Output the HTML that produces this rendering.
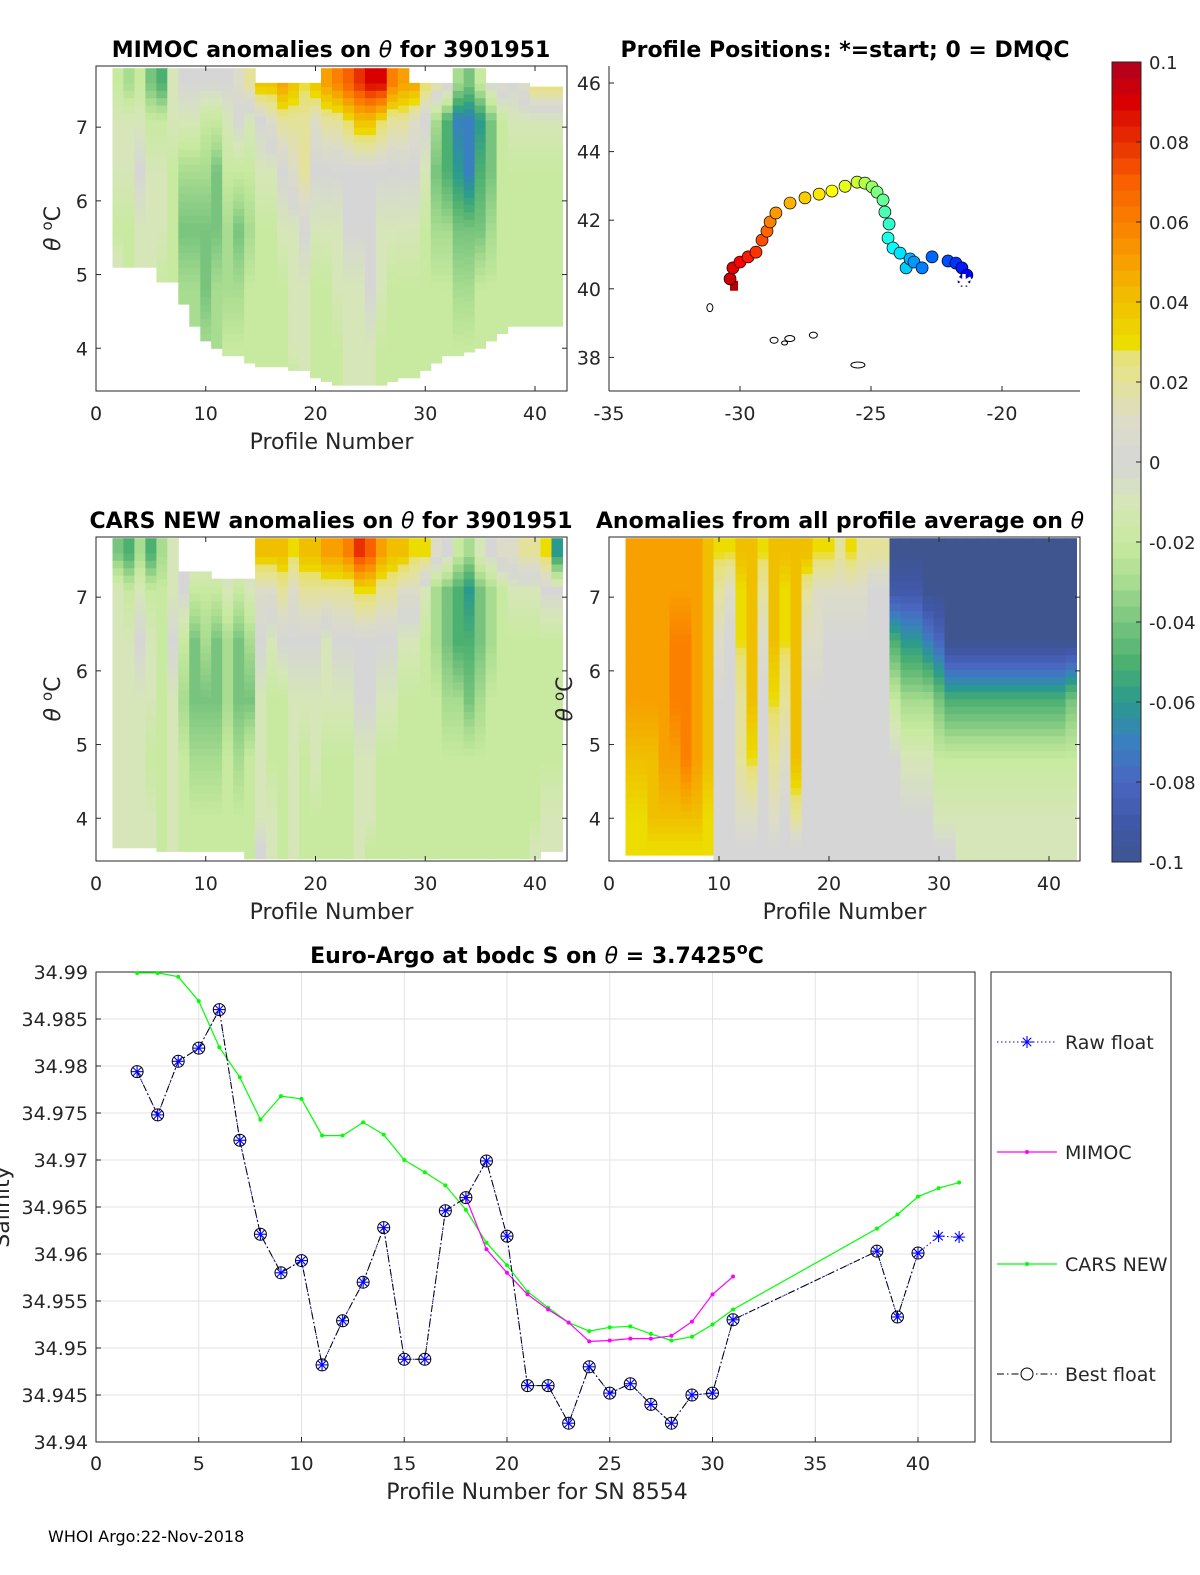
<!DOCTYPE html>
<html><head><meta charset="utf-8"><style>
html,body{margin:0;padding:0;background:#fff;}
svg{display:block;font-family:"DejaVu Sans","Liberation Sans",sans-serif;}
</style></head><body>
<svg id="fig" width="1200" height="1575" viewBox="0 0 1200 1575" xmlns="http://www.w3.org/2000/svg">
<rect width="1200" height="1575" fill="#fff"/>
<g id="layer"></g>
</svg>
<script>
// ---------- data ----------
const profiles = [2,3,4,5,6,7,8,9,10,11,12,13,14,15,16,17,18,19,20,21,22,23,24,25,26,27,28,29,30,31,32,33,34,35,36,37,38,39,40,41,42];
const thetaLevels = [7.6,7.1,6.4,5.6,4.8,4.0,3.6];
const mimocVals = [
[-0.02,-0.01,-0.01,-0.02,0,0,0],[-0.03,-0.01,-0.01,-0.02,-0.02,-0.02,-0.02],[-0.02,-0.01,0,-0.01,-0.01,-0.01,-0.01],[-0.04,-0.02,-0.01,-0.01,-0.01,-0.01,-0.01],
[-0.05,-0.02,-0.01,-0.01,-0.02,-0.02,-0.02],[-0.01,-0.01,-0.02,-0.02,-0.02,-0.02,-0.02],[0,-0.01,-0.03,-0.04,-0.03,-0.03,-0.03],[0,-0.01,-0.03,-0.04,-0.03,-0.03,-0.03],
[0,-0.02,-0.03,-0.04,-0.04,-0.03,-0.03],[0,-0.02,-0.04,-0.04,-0.03,-0.03,-0.03],[0,-0.01,-0.02,-0.03,-0.03,-0.02,-0.02],[0.01,0,-0.02,-0.04,-0.03,-0.02,-0.02],
[0.02,-0.01,-0.02,-0.03,-0.02,-0.02,-0.02],[0.04,0,-0.01,-0.02,-0.02,-0.02,-0.02],[0.04,0.01,-0.01,-0.02,-0.02,-0.02,-0.02],[0.05,0.02,0,-0.01,-0.02,-0.02,-0.02],
[0.04,0.02,0.01,-0.01,-0.01,-0.01,-0.02],[0.03,0.02,0.02,0,-0.01,-0.01,-0.01],[0.04,0.01,0,-0.01,-0.02,-0.02,-0.02],[0.05,0.02,0,-0.01,-0.02,-0.02,-0.02],
[0.06,0.02,0,-0.01,-0.01,-0.02,-0.02],[0.07,0.03,0,0,-0.01,-0.01,-0.01],[0.08,0.04,0,0,-0.01,-0.01,-0.01],[0.09,0.04,0,0,0,-0.01,-0.01],
[0.09,0.03,0,-0.01,-0.01,-0.02,-0.02],[0.06,0.02,0,-0.01,-0.02,-0.02,-0.02],[0.05,0.02,0,-0.01,-0.02,-0.02,-0.02],[0.05,0.01,0,-0.01,-0.02,-0.02,-0.02],
[0.03,0,-0.01,-0.02,-0.02,-0.02,-0.02],[0.02,-0.03,-0.04,-0.03,-0.02,-0.02,-0.02],[0.01,-0.05,-0.05,-0.03,-0.02,-0.02,-0.02],[-0.03,-0.07,-0.06,-0.04,-0.03,-0.02,-0.02],
[-0.04,-0.07,-0.07,-0.04,-0.03,-0.02,-0.02],[-0.02,-0.06,-0.05,-0.04,-0.02,-0.02,-0.02],[0,-0.04,-0.04,-0.03,-0.02,-0.02,-0.02],[0.01,-0.02,-0.02,-0.02,-0.02,-0.02,-0.02],
[0,-0.01,-0.02,-0.02,-0.02,-0.02,-0.02],[0.01,-0.01,-0.02,-0.02,-0.02,-0.02,-0.02],[0.03,-0.01,-0.02,-0.02,-0.02,-0.02,-0.02],[0.03,-0.01,-0.02,-0.02,-0.02,-0.02,-0.02],
[0.03,-0.01,-0.02,-0.02,-0.02,-0.02,-0.02]];
const mimocBottom = [5.1,5.1,5.1,5.1,4.9,4.9,4.6,4.3,4.1,4.0,3.9,3.9,3.8,3.75,3.75,3.75,3.7,3.7,3.6,3.55,3.5,3.5,3.5,3.5,3.5,3.55,3.6,3.6,3.7,3.8,3.9,3.9,3.95,4.0,4.1,4.2,4.3,4.3,4.3,4.3,4.3];
const mimocTop = [7.8,7.8,7.8,7.8,7.8,7.8,7.8,7.8,7.8,7.8,7.8,7.8,7.8,7.6,7.6,7.6,7.6,7.6,7.6,7.8,7.8,7.8,7.8,7.8,7.8,7.8,7.8,7.6,7.6,7.6,7.6,7.8,7.8,7.8,7.6,7.6,7.6,7.6,7.55,7.55,7.55];
const carsVals = [
[-0.04,-0.01,-0.01,-0.01,-0.01,-0.01,-0.01],[-0.05,-0.02,-0.01,-0.01,-0.01,-0.01,-0.01],[-0.03,-0.01,0,-0.01,-0.01,-0.01,-0.01],[-0.05,-0.02,-0.01,-0.01,-0.02,-0.01,-0.01],
[-0.03,-0.02,-0.02,-0.02,-0.02,-0.02,-0.02],[-0.01,-0.01,0,-0.01,-0.01,-0.01,-0.01],[0,0,-0.02,-0.03,-0.02,-0.02,-0.02],[0,-0.02,-0.04,-0.04,-0.03,-0.02,-0.02],
[0,-0.02,-0.03,-0.04,-0.03,-0.02,-0.02],[0,-0.02,-0.04,-0.04,-0.03,-0.02,-0.02],[0,-0.01,-0.03,-0.03,-0.02,-0.02,-0.02],[0,-0.02,-0.04,-0.04,-0.03,-0.02,-0.02],
[0,-0.01,-0.03,-0.04,-0.02,-0.02,-0.02],[0.04,0.01,0,-0.01,-0.01,-0.01,0],[0.04,0.01,-0.01,-0.02,-0.02,-0.01,-0.01],[0.04,0.02,0,-0.02,-0.02,-0.02,-0.02],
[0.03,0.01,0,-0.01,-0.01,-0.01,-0.01],[0.04,0.02,0,-0.01,-0.02,-0.02,-0.02],[0.04,0.02,0,-0.01,-0.01,-0.02,-0.02],[0.05,0.02,-0.01,-0.01,-0.02,-0.02,-0.02],
[0.05,0.02,0,-0.01,-0.02,-0.02,-0.02],[0.06,0.02,0,-0.01,-0.02,-0.02,-0.02],[0.08,0.03,0,0,-0.01,-0.01,-0.01],[0.07,0.03,0,0,-0.01,-0.01,-0.02],
[0.05,0.02,0,-0.01,-0.02,-0.02,-0.02],[0.04,0.02,0,-0.01,-0.02,-0.02,-0.02],[0.04,0.01,-0.01,-0.02,-0.02,-0.02,-0.02],[0.03,0.01,-0.01,-0.02,-0.02,-0.02,-0.02],
[0.03,-0.01,-0.02,-0.02,-0.02,-0.02,-0.02],[0.01,-0.03,-0.03,-0.02,-0.02,-0.02,-0.02],[0,-0.04,-0.04,-0.03,-0.02,-0.02,-0.02],[-0.02,-0.05,-0.05,-0.03,-0.02,-0.02,-0.02],
[-0.03,-0.06,-0.05,-0.04,-0.02,-0.02,-0.02],[-0.01,-0.04,-0.04,-0.03,-0.02,-0.02,-0.02],[0,-0.03,-0.03,-0.02,-0.02,-0.02,-0.02],[0.01,-0.02,-0.02,-0.02,-0.02,-0.02,-0.02],
[0.01,-0.01,-0.02,-0.02,-0.02,-0.02,-0.02],[0.02,-0.01,-0.02,-0.02,-0.02,-0.02,-0.02],[0.02,-0.01,-0.02,-0.02,-0.02,-0.02,-0.01],[0.03,0,-0.02,-0.02,-0.02,-0.01,-0.01],
[-0.06,0,-0.02,-0.02,-0.02,-0.01,-0.01]];
const carsBottom = [3.6,3.6,3.6,3.6,3.55,3.55,3.55,3.55,3.55,3.55,3.55,3.55,3.45,3.45,3.45,3.45,3.45,3.45,3.45,3.45,3.45,3.45,3.45,3.45,3.45,3.45,3.45,3.45,3.45,3.45,3.45,3.45,3.45,3.45,3.45,3.45,3.45,3.45,3.45,3.55,3.55];
const carsTop = [7.8,7.8,7.8,7.8,7.8,7.8,7.35,7.35,7.35,7.25,7.25,7.25,7.25,7.8,7.8,7.8,7.8,7.8,7.8,7.8,7.8,7.8,7.8,7.8,7.8,7.8,7.8,7.8,7.8,7.8,7.8,7.8,7.8,7.8,7.8,7.8,7.8,7.8,7.8,7.8,7.8];
const avgVals = [
[0.05,0.05,0.05,0.05,0.04,0.03,0.03],[0.05,0.05,0.05,0.05,0.04,0.03,0.03],[0.05,0.05,0.05,0.05,0.04,0.04,0.03],[0.05,0.05,0.05,0.05,0.05,0.04,0.03],
[0.05,0.05,0.06,0.06,0.05,0.04,0.03],[0.05,0.05,0.06,0.06,0.06,0.04,0.03],[0.05,0.05,0.05,0.05,0.05,0.04,0.03],[0.04,0.04,0.04,0.04,0.04,0.03,0.03],
[0.03,0.02,0.01,0,0,0,0],[0.03,0.01,0,0,0,0,0],[0.04,0.03,0.03,0.02,0.02,0.01,0],[0.04,0.04,0.04,0.04,0.03,0.01,0],
[0.03,0.02,0.01,0,0,0,0],[0.04,0.04,0.04,0.03,0.02,0.01,0],[0.04,0.03,0.03,0.02,0.01,0,0],[0.04,0.04,0.04,0.04,0.04,0.02,0],
[0.04,0.02,0.01,0,0,0,0],[0.03,0.01,0.01,0,0,0,0],[0.03,0.01,0,0,0,0,0],[0.02,0.01,0,0,0,0,0],
[0.03,0.01,0,0,0,0,0],[0.02,0.01,0,0,0,0,0],[0.02,0,0,0,0,0,0],[0.02,0,0,0,0,0,0],
[-0.1,-0.09,-0.05,-0.02,0,0,0],[-0.1,-0.09,-0.06,-0.03,-0.01,0,0],[-0.1,-0.09,-0.06,-0.03,-0.01,0,0],[-0.1,-0.1,-0.07,-0.03,-0.01,0,0],
[-0.1,-0.1,-0.08,-0.04,-0.02,-0.01,0],[-0.1,-0.1,-0.1,-0.05,-0.02,-0.01,0],[-0.1,-0.1,-0.1,-0.05,-0.02,-0.01,-0.01],[-0.1,-0.1,-0.1,-0.05,-0.02,-0.01,-0.01],
[-0.1,-0.1,-0.1,-0.05,-0.02,-0.01,-0.01],[-0.1,-0.1,-0.1,-0.05,-0.02,-0.01,-0.01],[-0.1,-0.1,-0.1,-0.05,-0.02,-0.01,-0.01],[-0.1,-0.1,-0.1,-0.05,-0.02,-0.01,-0.01],
[-0.1,-0.1,-0.1,-0.05,-0.02,-0.01,-0.01],[-0.1,-0.1,-0.1,-0.05,-0.02,-0.01,-0.01],[-0.1,-0.1,-0.1,-0.05,-0.02,-0.01,-0.01],[-0.1,-0.1,-0.1,-0.05,-0.02,-0.01,-0.01],
[-0.1,-0.1,-0.1,-0.04,-0.02,-0.01,-0.01]];
const avgBottom = [3.5,3.5,3.5,3.5,3.5,3.5,3.5,3.5,3.42,3.42,3.42,3.42,3.42,3.42,3.42,3.42,3.42,3.42,3.42,3.42,3.42,3.42,3.42,3.42,3.42,3.42,3.42,3.42,3.42,3.42,3.42,3.42,3.42,3.42,3.42,3.42,3.42,3.42,3.42,3.42,3.42];
const avgTop = [7.8,7.8,7.8,7.8,7.8,7.8,7.8,7.8,7.8,7.8,7.8,7.8,7.8,7.8,7.8,7.8,7.8,7.8,7.8,7.8,7.8,7.8,7.8,7.8,7.8,7.8,7.8,7.8,7.8,7.8,7.8,7.8,7.8,7.8,7.8,7.8,7.8,7.8,7.8,7.8,7.8];
const trackLon = [-21.45,-21.34,-21.53,-21.76,-22.06,-22.67,-23.05,-23.36,-23.51,-23.66,-23.89,-24.16,-24.35,-24.31,-24.47,-24.54,-24.77,-24.96,-25.23,-25.53,-25.99,-26.49,-26.98,-27.52,-28.09,-28.63,-28.85,-28.97,-29.16,-29.39,-29.69,-30.0,-30.27,-30.38,-30.19];
const trackLat = [40.23,40.40,40.61,40.75,40.81,40.93,40.61,40.78,40.87,40.61,41.04,41.19,41.48,41.89,42.24,42.59,42.82,42.97,43.08,43.11,42.99,42.85,42.76,42.65,42.50,42.21,41.95,41.68,41.42,41.07,40.93,40.78,40.61,40.29,40.06];
const bestProf = [2,3,4,5,6,7,8,9,10,11,12,13,14,15,16,17,18,19,20,21,22,23,24,25,26,27,28,29,30,31,38,39,40];
const bestSal = [34.9794,34.9748,34.9805,34.9819,34.986,34.9721,34.9621,34.958,34.9593,34.9482,34.9529,34.957,34.9628,34.9488,34.9488,34.9646,34.966,34.9699,34.9619,34.946,34.946,34.942,34.948,34.9452,34.9462,34.944,34.942,34.945,34.9452,34.953,34.9603,34.9533,34.9601];
const rawProf = [2,3,4,5,6,7,8,9,10,11,12,13,14,15,16,17,18,19,20,21,22,23,24,25,26,27,28,29,30,31,38,39,40,41,42];
const rawSal = [34.9794,34.9748,34.9805,34.9819,34.986,34.9721,34.9621,34.958,34.9593,34.9482,34.9529,34.957,34.9628,34.9488,34.9488,34.9646,34.966,34.9699,34.9619,34.946,34.946,34.942,34.948,34.9452,34.9462,34.944,34.942,34.945,34.9452,34.953,34.9603,34.9533,34.9601,34.9619,34.9618];
const mimocProf = [18,19,20,21,22,23,24,25,26,27,28,29,30,31];
const mimocSal = [34.966,34.9605,34.958,34.9557,34.9541,34.9527,34.9507,34.9508,34.951,34.951,34.9513,34.9528,34.9557,34.9576];
const carsProf = [2,3,4,5,6,7,8,9,10,11,12,13,14,15,16,17,18,19,20,21,22,23,24,25,26,27,28,29,30,31,38,39,40,41,42];
const carsSal = [34.9899,34.9899,34.9895,34.9869,34.982,34.9788,34.9743,34.9768,34.9765,34.9726,34.9726,34.974,34.9727,34.97,34.9687,34.9673,34.9647,34.9612,34.9588,34.956,34.9543,34.9527,34.9518,34.9522,34.9523,34.9515,34.9508,34.9512,34.9525,34.9541,34.9627,34.9642,34.9661,34.967,34.9676];
const cbTicks = ["0.1","0.08","0.06","0.04","0.02","0","-0.02","-0.04","-0.06","-0.08","-0.1"];

// ---------- helpers ----------
const NS="http://www.w3.org/2000/svg";
const root=document.getElementById('layer');
function mk(tag,attrs,parent){const e=document.createElementNS(NS,tag);for(const k in attrs)e.setAttribute(k,attrs[k]);(parent||root).appendChild(e);return e;}
function txt(x,y,s,size,anchor,parent,extra){const t=mk('text',Object.assign({x:x,y:y,'font-size':size,'text-anchor':anchor||'middle',fill:'#262626'},extra||{}),parent);t.textContent=s;return t;}
const cmapV=[-0.1,-0.09,-0.08,-0.07,-0.06,-0.05,-0.04,-0.03,-0.02,-0.01,0,0.01,0.02,0.028,0.03,0.04,0.05,0.06,0.07,0.08,0.09,0.1];
const cmapC=['#3e5590','#4058a8','#4a66c0','#3a80c0','#2a9a8e','#4cb070','#78c47e','#a8dc90','#c8eaa0','#d6e6b8','#d6d6d6','#dcdcc8','#e4e29a','#e8e070','#ecdc00','#f0c000','#f8a000','#fb8000','#f86000','#e83000','#d80000','#b00020'];
function hex(c){return [parseInt(c.substr(1,2),16),parseInt(c.substr(3,2),16),parseInt(c.substr(5,2),16)];}
function cmap(v){v=Math.max(-0.1,Math.min(0.1,v));for(let i=0;i<cmapV.length-1;i++){if(v<=cmapV[i+1]){const f=(v-cmapV[i])/(cmapV[i+1]-cmapV[i]);const a=hex(cmapC[i]),b=hex(cmapC[i+1]);return 'rgb('+a.map((q,j)=>Math.round(q+(b[j]-q)*f)).join(',')+')';}}return cmapC[cmapC.length-1];}
function interpLevel(vals,th){if(th>=thetaLevels[0])return vals[0];for(let i=0;i<thetaLevels.length-1;i++){if(th>=thetaLevels[i+1]){const f=(thetaLevels[i]-th)/(thetaLevels[i]-thetaLevels[i+1]);return vals[i]+(vals[i+1]-vals[i])*f;}}return vals[vals.length-1];}

function heatPanel(name,x0,x1,y0,y1,pxPerProf,vals,bottom,top,yLabelX){
  const g=mk('g',{},root);
  
  
  const xs=p=>x0+p*pxPerProf;
  const ys=t=>y1-(t-3.42)*73.7;
  profiles.forEach((p,i)=>{
    const cx0=xs(p-0.5),cx1=xs(p+0.5);
    for(let t=bottom[i];t<top[i]-0.001;t+=0.1){
      const tt=Math.min(t+0.1,top[i]);
      const r=mk('rect',{x:cx0.toFixed(1),y:ys(tt).toFixed(1),width:(cx1-cx0+0.5).toFixed(1),height:(ys(t)-ys(tt)+0.5).toFixed(1),fill:cmap(interpLevel(vals[i],(t+tt)/2))},g);
      
      
    }
  });
  const box=mk('rect',{x:x0,y:y0,width:x1-x0,height:y1-y0,fill:'none',stroke:'#262626','stroke-width':1},g);
  
  
  [0,10,20,30,40].forEach(v=>{const X=xs(v);mk('line',{x1:X,y1:y1,x2:X,y2:y1-5,stroke:'#262626'},g);mk('line',{x1:X,y1:y0,x2:X,y2:y0+5,stroke:'#262626'},g);
    const t=txt(X,y1+29,String(v),19,'middle',g);});
  [4,5,6,7].forEach(v=>{const Y=ys(v);mk('line',{x1:x0,y1:Y,x2:x0+5,y2:Y,stroke:'#262626'},g);mk('line',{x1:x1,y1:Y,x2:x1-5,y2:Y,stroke:'#262626'},g);
    const t=txt(x0-8,Y+7,String(v),19,'end',g);});
  const xl=txt((x0+x1)/2,y1+58,'Profile Number',22,'middle',g);
  const yl=mk('text',{x:0,y:0,'font-size':22,'text-anchor':'middle',fill:'#262626',transform:'translate('+yLabelX+','+((y0+y1)/2)+') rotate(-90)'},g);
  yl.innerHTML='<tspan font-style="italic">θ</tspan> <tspan dy="-8" font-size="15">o</tspan><tspan dy="8">C</tspan>';
  
  return g;
}

// ---------- titles ----------
function title(x,y,html,name){const t=mk('text',{x:x,y:y,'font-size':22,'font-weight':'bold','text-anchor':'middle',fill:'#000'});t.innerHTML=html;}
title(331,57,'MIMOC anomalies on <tspan font-style="italic" font-weight="normal">θ</tspan>  for 3901951','mimoc-title');
title(845,57,'Profile Positions: *=start; 0 = DMQC','map-title');
title(331,528,'CARS NEW anomalies on <tspan font-style="italic" font-weight="normal">θ</tspan> for 3901951','cars-title');
title(840,528,'Anomalies from all profile average on <tspan font-style="italic" font-weight="normal">θ</tspan>','avg-title');
title(537,963,'Euro-Argo at bodc S on <tspan font-style="italic" font-weight="normal">θ</tspan> = 3.7425<tspan dy="-9" font-size="16">o</tspan><tspan dy="9">C</tspan>','salinity-title');

heatPanel('mimoc-anomaly-panel',96,567,66,391,10.975,mimocVals,mimocBottom,mimocTop,60);
heatPanel('cars-anomaly-panel',96,567,537,861,10.975,carsVals,carsBottom,carsTop,60);
heatPanel('avg-anomaly-panel',609,1080,537,861,11,avgVals,avgBottom,avgTop,572);

// ---------- map ----------
(function(){
  const g=mk('g',{});
  const X=lon=>609+(lon+35)*26.2, Y=lat=>83+(46-lat)*34.3;
  mk('line',{x1:609,y1:66,x2:609,y2:391,stroke:'#262626'},g);
  mk('line',{x1:609,y1:391,x2:1080,y2:391,stroke:'#262626'},g);
  [-35,-30,-25,-20].forEach(v=>{mk('line',{x1:X(v),y1:391,x2:X(v),y2:386,stroke:'#262626'},g);const t=txt(X(v),420,String(v),19,'middle',g);});
  [38,40,42,44,46].forEach(v=>{mk('line',{x1:609,y1:Y(v),x2:614,y2:Y(v),stroke:'#262626'},g);const t=txt(601,Y(v)+7,String(v),19,'end',g);});
  [[-31.15,39.45,3,4],[-28.7,38.5,4,3],[-28.1,38.55,5,3],[-27.2,38.65,4,3],[-25.5,37.78,7,3],[-28.3,38.42,3,2]].forEach(d=>{const e=mk('ellipse',{cx:X(d[0]),cy:Y(d[1]),rx:d[2],ry:d[3],fill:'none',stroke:'#000','stroke-width':1},g);});
  const n=trackLon.length;
  const jet=f=>{const r=Math.min(1,Math.max(0,1.5-Math.abs(4*f-3))),gg=Math.min(1,Math.max(0,1.5-Math.abs(4*f-2))),b=Math.min(1,Math.max(0,1.5-Math.abs(4*f-1)));return 'rgb('+Math.round(r*255)+','+Math.round(gg*255)+','+Math.round(b*255)+')';};
  for(let i=n-1;i>=0;i--){
    const f=0.1+0.85*i/(n-1);
    let el;
    if(i===n-1){el=mk('rect',{x:X(trackLon[i])-5,y:Y(trackLat[i])-6,width:8,height:10,fill:jet(f)},g);}
    else el=mk('circle',{cx:X(trackLon[i]),cy:Y(trackLat[i]),r:6,fill:jet(f),stroke:'#000','stroke-width':0.7},g);
    
  }
  const s=txt(X(trackLon[0]),Y(trackLat[0])+9,'✱',22,'middle',g,{fill:'#fff'});
  
})();

// ---------- colorbar ----------
(function(){
  const g=mk('g',{});
  const yv=v=>862-(v+0.1)/0.2*800;
  for(let k=0;k<50;k++){const v0=-0.1+k*0.004;const r=mk('rect',{x:1112,y:yv(v0+0.004),width:29,height:800/50+0.5,fill:cmap(v0+0.002)},g);}
  mk('rect',{x:1112,y:62,width:29,height:800,fill:'none',stroke:'#262626'},g);
  cbTicks.forEach(s=>{const v=parseFloat(s);const Y=yv(v);mk('line',{x1:1136,y1:Y,x2:1141,y2:Y,stroke:'#262626'},g);const t=txt(1149,Y+7,s,18,'start',g);});
})();

// ---------- salinity chart ----------
(function(){
  const g=mk('g',{});
  const X=p=>96+p*20.55, Y=s=>972+(34.99-s)*9400;
  for(let v=0;v<=40;v+=5){mk('line',{x1:X(v),y1:972,x2:X(v),y2:1442,stroke:'#e3e3e3'},g);const t=txt(X(v),1470,String(v),19,'middle',g);mk('line',{x1:X(v),y1:1442,x2:X(v),y2:1437,stroke:'#262626'},g);}
  for(let k=0;k<=10;k++){const s=34.94+k*0.005;const Yp=Y(s);mk('line',{x1:96,y1:Yp,x2:975,y2:Yp,stroke:'#e3e3e3'},g);mk('line',{x1:96,y1:Yp,x2:101,y2:Yp,stroke:'#262626'},g);
    let lab=s.toFixed(3).replace(/0+$/,'');const t=txt(88,Yp+7,lab,19,'end',g);}
  mk('rect',{x:96,y:972,width:879,height:470,fill:'none',stroke:'#262626'},g);
  const xl=txt(537,1499,'Profile Number for SN 8554',22,'middle',g);
  const yl=txt(0,0,'Salinity',22,'middle',g,{transform:'translate(9,1207) rotate(-90)'});
  function pts(P,S){return P.map((p,i)=>X(p).toFixed(1)+','+Y(S[i]).toFixed(1)).join(' ');}
  const lc=mk('polyline',{points:pts(carsProf,carsSal),fill:'none',stroke:'#00ff00','stroke-width':1.2},g);
  carsProf.forEach((p,i)=>{const c=mk('circle',{cx:X(p),cy:Y(carsSal[i]),r:2,fill:'#00ff00'},g);});
  const lm=mk('polyline',{points:pts(mimocProf,mimocSal),fill:'none',stroke:'#ff00ff','stroke-width':1.2},g);
  mimocProf.forEach((p,i)=>{const c=mk('circle',{cx:X(p),cy:Y(mimocSal[i]),r:2,fill:'#ff00ff'},g);});
  const lr=mk('polyline',{points:pts(rawProf,rawSal),fill:'none',stroke:'#0000ff','stroke-width':1,'stroke-dasharray':'1.5,2.5'},g);
  const lb=mk('polyline',{points:pts(bestProf,bestSal),fill:'none',stroke:'#000','stroke-width':1,'stroke-dasharray':'7,3,1.5,3'},g);
  function star(cx,cy,r,col,parent){for(let a=0;a<4;a++){const an=a*Math.PI/4;mk('line',{x1:cx-r*Math.cos(an),y1:cy-r*Math.sin(an),x2:cx+r*Math.cos(an),y2:cy+r*Math.sin(an),stroke:col,'stroke-width':1.1},parent);}}
  rawProf.forEach((p,i)=>{const sg=mk('g',{},g);star(X(p),Y(rawSal[i]),6,'#0000ff',sg);});
  bestProf.forEach((p,i)=>{const c=mk('circle',{cx:X(p),cy:Y(bestSal[i]),r:6,fill:'none',stroke:'#000','stroke-width':1},g);});
  const lg=mk('g',{},g);
  mk('rect',{x:991,y:972,width:180,height:470,fill:'#fff',stroke:'#262626'},lg);
  const ents=[['Raw float',1042,'raw'],['MIMOC',1152,'mimoc'],['CARS NEW',1264,'cars'],['Best float',1374,'best']];
  ents.forEach(e=>{const eg=mk('g',{},lg);
    const y=e[1];
    if(e[2]==='raw'){mk('line',{x1:997,y1:y,x2:1057,y2:y,stroke:'#0000ff','stroke-dasharray':'1.5,2.5'},eg);star(1027,y,6,'#0000ff',eg);}
    if(e[2]==='mimoc'){mk('line',{x1:997,y1:y,x2:1057,y2:y,stroke:'#ff00ff','stroke-width':1.2},eg);mk('circle',{cx:1027,cy:y,r:2,fill:'#ff00ff'},eg);}
    if(e[2]==='cars'){mk('line',{x1:997,y1:y,x2:1057,y2:y,stroke:'#00ff00','stroke-width':1.2},eg);mk('circle',{cx:1027,cy:y,r:2,fill:'#00ff00'},eg);}
    if(e[2]==='best'){mk('line',{x1:997,y1:y,x2:1057,y2:y,stroke:'#000','stroke-dasharray':'7,3,1.5,3'},eg);mk('circle',{cx:1027,cy:y,r:6,fill:'#fff',stroke:'#000'},eg);}
    txt(1065,y+7,e[0],19,'start',eg);
  });
})();
const ft=txt(48,1542,'WHOI Argo:22-Nov-2018',16,'start',root,{fill:'#000'});


</script>
</body></html>
